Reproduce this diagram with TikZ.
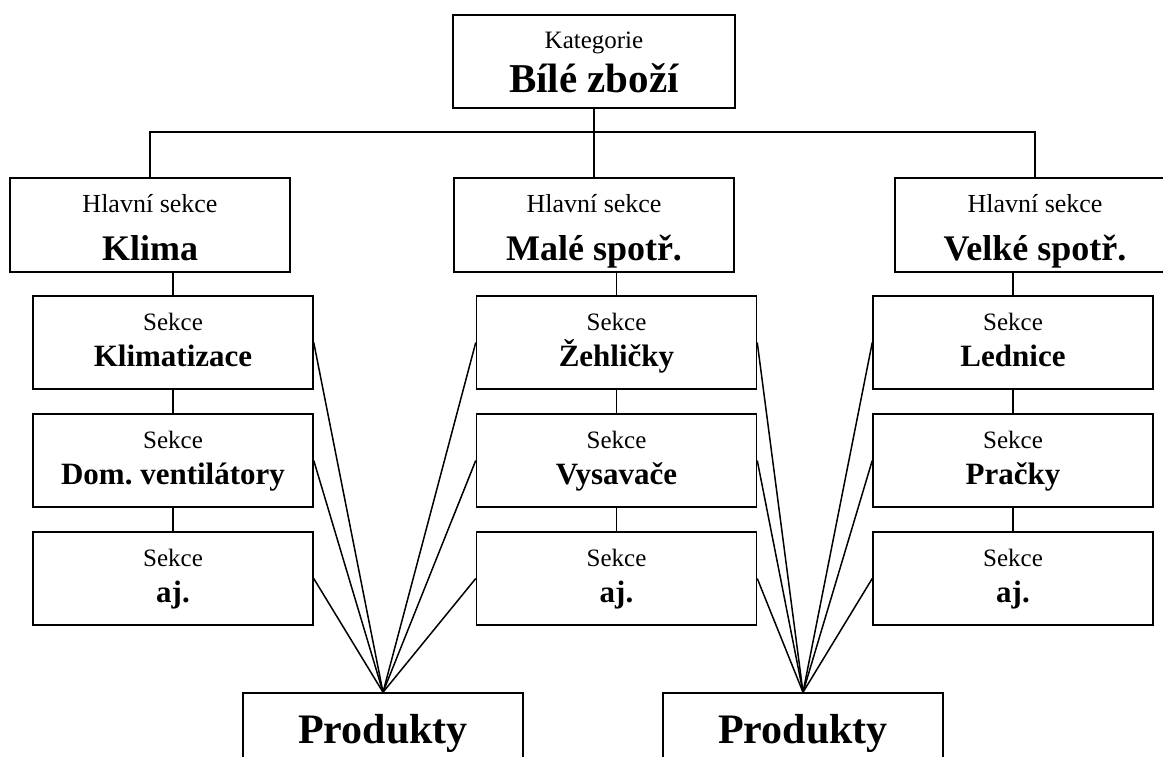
\documentclass[tikz,border=0pt]{standalone}
\usepackage{fontspec}
\setmainfont{Liberation Serif}
\usetikzlibrary{positioning}
\frenchspacing

\begin{document}
\begin{tikzpicture}[
	x=1pt, y=-1pt,
	node distance=23.5pt,
	line width=1.5pt,
	box/.style = {draw, minimum width=280pt, minimum height=93pt, inner sep=0pt, align=center},
	topbox/.style = {box, minimum width=282pt, font=\fontsize{25}{44}\selectfont},
	mainbox/.style = {box, minimum height=94pt, font=\fontsize{26}{48}\selectfont},
	subbox/.style = {box, font=\fontsize{25}{36}\selectfont},
	prodbox/.style = {box, minimum height=81pt, font=\fontsize{42}{50}\selectfont\bfseries,
		text height=28pt, text depth=9pt}
	]
	\useasboundingbox[fill=white] (0,0) rectangle (1163,757);
%
	\node (kat) [topbox] at (594,61.5)
		{\rule{0pt}{21pt}Kategorie\\ \fontsize{41}{44}\selectfont\bfseries Bílé zboží\rule[-2pt]{0pt}{2pt}};
%
	\node (hs1) [mainbox] at (150,225)
		{\rule{0pt}{32pt}Hlavní sekce\\ \fontsize{36}{48}\selectfont\bfseries Klima\rule[-8pt]{0pt}{8pt}};
	\node (hs2) [mainbox] at (594,225)
		{\rule{0pt}{32pt}Hlavní sekce\\ \fontsize{36}{48}\selectfont\bfseries Malé spotř.\rule[-8pt]{0pt}{8pt}};
	\node (hs3) [mainbox] at (1035,225)
		{\rule{0pt}{32pt}Hlavní sekce\\ \fontsize{36}{48}\selectfont\bfseries Velké spotř.\rule[-8pt]{0pt}{8pt}};
%
	\node (sk11) [subbox] at (173,342.5)
		{\rule{0pt}{18pt}Sekce\\ \fontsize{31}{36}\selectfont\bfseries Klimatizace\rule[-7pt]{0pt}{7pt}};
	\node (sk12) [subbox, below=of sk11]
		{\rule{0pt}{18pt}Sekce\\ \fontsize{31}{36}\selectfont\bfseries Dom. ventilátory\rule[-7pt]{0pt}{7pt}};
	\node (sk13) [subbox, below=of sk12]
		{\rule{0pt}{18pt}Sekce\\ \fontsize{31}{36}\selectfont\bfseries aj.\rule[-7pt]{0pt}{7pt}};
%
	\node (sk21) [subbox] at (616.5,342.5)
		{\rule{0pt}{18pt}Sekce\\ \fontsize{31}{36}\selectfont\bfseries Žehličky\rule[-7pt]{0pt}{7pt}};
	\node (sk22) [subbox, below=of sk21]
		{\rule{0pt}{18pt}Sekce\\ \fontsize{31}{36}\selectfont\bfseries Vysavače\rule[-7pt]{0pt}{7pt}};
	\node (sk23) [subbox, below=of sk22]
		{\rule{0pt}{18pt}Sekce\\ \fontsize{31}{36}\selectfont\bfseries aj.\rule[-7pt]{0pt}{7pt}};
%
	\node (sk31) [subbox] at (1013,342.5)
		{\rule{0pt}{18pt}Sekce\\ \fontsize{31}{36}\selectfont\bfseries Lednice\rule[-7pt]{0pt}{7pt}};
	\node (sk32) [subbox, below=of sk31]
		{\rule{0pt}{18pt}Sekce\\ \fontsize{31}{36}\selectfont\bfseries Pračky\rule[-7pt]{0pt}{7pt}};
	\node (sk33) [subbox, below=of sk32]
		{\rule{0pt}{18pt}Sekce\\ \fontsize{31}{36}\selectfont\bfseries aj.\rule[-7pt]{0pt}{7pt}};
%
	\node (pr1) [prodbox] at (383,733.5) {Produkty};
	\node (pr2) [prodbox] at (803,733.5) {Produkty};
%
	\coordinate (bus) at (594,132);
	\draw (kat.south) -- (bus);
	\draw (hs1.north) |- (bus) -| (hs3.north);
	\draw (bus) -- (hs2.north);
%
	\foreach \i in {1,2,3}{
		\draw (sk\i1.north) -- (sk\i1.north |- hs\i.south);
		\draw (sk\i1.south) -- (sk\i2.north);
		\draw (sk\i2.south) -- (sk\i3.north);
	}
%
	\foreach \j in {1,2,3}{
		\draw (sk1\j.east) -- (pr1.north);
		\draw (sk2\j.west) -- (pr1.north);
		\draw (sk2\j.east) -- (pr2.north);
		\draw (sk3\j.west) -- (pr2.north);
	}
\end{tikzpicture}
\end{document}
